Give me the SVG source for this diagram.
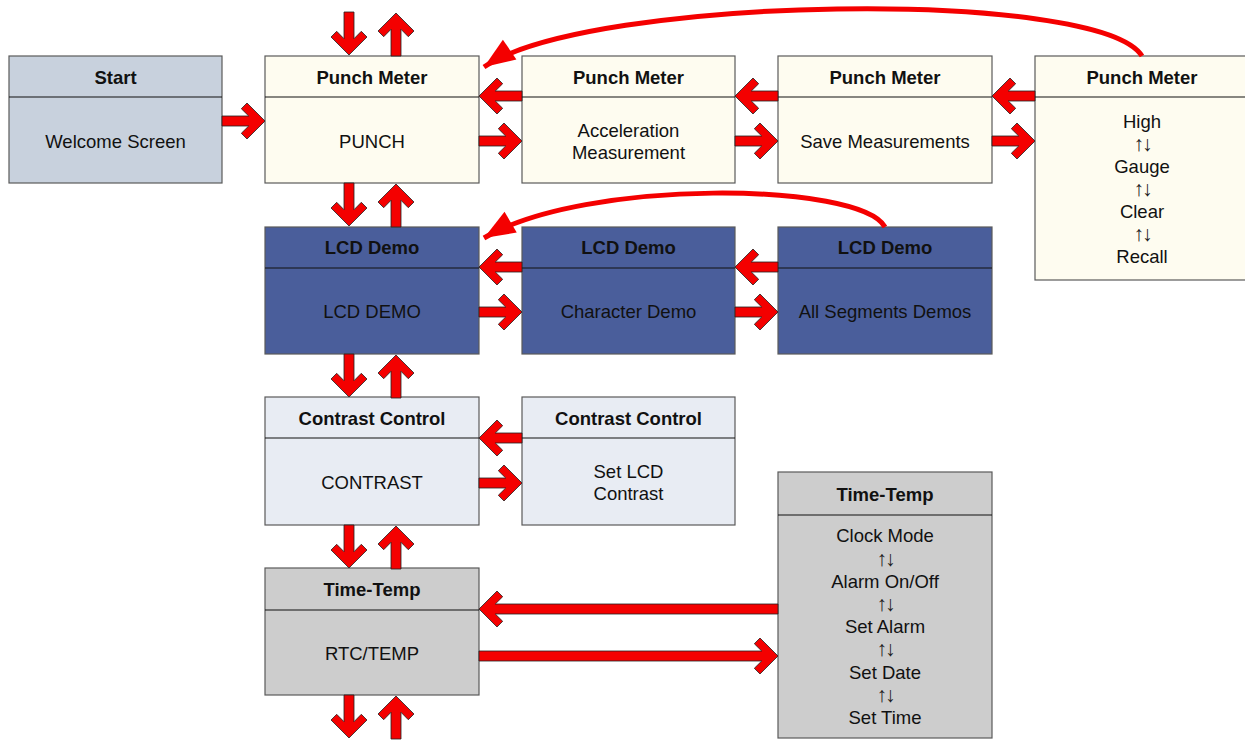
<svg xmlns="http://www.w3.org/2000/svg" xmlns:xlink="http://www.w3.org/1999/xlink" width="1245" height="740" viewBox="0 0 1245 740">
<style>
.box{stroke:#5a5a5a;stroke-width:1.2}
.div{stroke:#111;stroke-width:1.2}
.start{fill:#c8d1dd}
.punch{fill:#fefcf0}
.lcd{fill:#4a5e9b}
.con{fill:#e8ecf3}
.tt{fill:#cdcdcd}
text{font-family:"Liberation Sans",Arial,sans-serif;font-size:18.5px;fill:#111;text-anchor:middle}
.h{font-weight:bold}
.sym{font-size:21px;fill:#222;letter-spacing:-2px}
.arr{fill:#f40000;stroke:#222;stroke-width:0.8;stroke-linejoin:miter}
.curve{fill:none;stroke:#f40000;stroke-width:5}
</style>
<defs>
<path id="a43" d="M0,0 L-18,-18 L-23.7,-12.3 L-16.3,-5 L-43,-5 L-43,5 L-16.3,5 L-23.7,12.3 L-18,18 Z"/>
<path id="a299" d="M0,0 L-18,-18 L-23.7,-12.3 L-16.3,-5 L-299,-5 L-299,5 L-16.3,5 L-23.7,12.3 L-18,18 Z"/>
<marker id="tri" markerUnits="userSpaceOnUse" viewBox="-34 -14 36 28" refX="0" refY="0" markerWidth="36" markerHeight="28" orient="auto">
<path d="M0,0 L-31,-12 L-31,12 Z" fill="#f40000"/>
</marker>
</defs>

<g id="start">
<rect class="box start" x="9" y="56" width="213" height="127"/>
<line class="div" x1="9" y1="97" x2="222" y2="97"/>
<text class="h" x="115.5" y="83.5">Start</text>
<text x="115.5" y="147.5">Welcome Screen</text>
</g>

<g id="punch">
<rect class="box punch" x="265" y="56" width="214" height="127"/>
<line class="div" x1="265" y1="97" x2="479" y2="97"/>
<text class="h" x="372" y="83.5">Punch Meter</text>
<text x="372" y="147.5">PUNCH</text>
</g>

<g id="accel">
<rect class="box punch" x="522" y="56" width="213" height="127"/>
<line class="div" x1="522" y1="97" x2="735" y2="97"/>
<text class="h" x="628.5" y="83.5">Punch Meter</text>
<text x="628.5" y="136.5">Acceleration</text>
<text x="628.5" y="158.5">Measurement</text>
</g>

<g id="save">
<rect class="box punch" x="778" y="56" width="214" height="127"/>
<line class="div" x1="778" y1="97" x2="992" y2="97"/>
<text class="h" x="885" y="83.5">Punch Meter</text>
<text x="885" y="147.5">Save Measurements</text>
</g>

<g id="modes">
<rect class="box punch" x="1035" y="56" width="214" height="224"/>
<line class="div" x1="1035" y1="97" x2="1249" y2="97"/>
<text class="h" x="1142" y="83.5">Punch Meter</text>
<text x="1142" y="127.5">High</text>
<text class="sym" x="1142" y="151">↑↓</text>
<text x="1142" y="172.5">Gauge</text>
<text class="sym" x="1142" y="196">↑↓</text>
<text x="1142" y="217.5">Clear</text>
<text class="sym" x="1142" y="241">↑↓</text>
<text x="1142" y="262.5">Recall</text>
</g>

<g id="lcd">
<rect class="box lcd" x="265" y="227" width="214" height="127"/>
<line class="div" x1="265" y1="268" x2="479" y2="268"/>
<text class="h" x="372" y="253.5">LCD Demo</text>
<text x="372" y="317.5">LCD DEMO</text>
</g>

<g id="chardemo">
<rect class="box lcd" x="522" y="227" width="213" height="127"/>
<line class="div" x1="522" y1="268" x2="735" y2="268"/>
<text class="h" x="628.5" y="253.5">LCD Demo</text>
<text x="628.5" y="317.5">Character Demo</text>
</g>

<g id="segdemo">
<rect class="box lcd" x="778" y="227" width="214" height="127"/>
<line class="div" x1="778" y1="268" x2="992" y2="268"/>
<text class="h" x="885" y="253.5">LCD Demo</text>
<text x="885" y="317.5">All Segments Demos</text>
</g>

<g id="contrast">
<rect class="box con" x="265" y="397" width="214" height="128"/>
<line class="div" x1="265" y1="438" x2="479" y2="438"/>
<text class="h" x="372" y="424.5">Contrast Control</text>
<text x="372" y="488.5">CONTRAST</text>
</g>

<g id="setcontrast">
<rect class="box con" x="522" y="397" width="213" height="128"/>
<line class="div" x1="522" y1="438" x2="735" y2="438"/>
<text class="h" x="628.5" y="424.5">Contrast Control</text>
<text x="628.5" y="477.5">Set LCD</text>
<text x="628.5" y="499.5">Contrast</text>
</g>

<g id="rtc">
<rect class="box tt" x="265" y="568" width="214" height="127"/>
<line class="div" x1="265" y1="610" x2="479" y2="610"/>
<text class="h" x="372" y="595.5">Time-Temp</text>
<text x="372" y="659.5">RTC/TEMP</text>
</g>

<g id="clockmodes">
<rect class="box tt" x="778" y="472" width="214" height="266"/>
<line class="div" x1="778" y1="515" x2="992" y2="515"/>
<text class="h" x="885" y="500.5">Time-Temp</text>
<text x="885" y="541.5">Clock Mode</text>
<text class="sym" x="885" y="565.5">↑↓</text>
<text x="885" y="587.5">Alarm On/Off</text>
<text class="sym" x="885" y="610.5">↑↓</text>
<text x="885" y="632.5">Set Alarm</text>
<text class="sym" x="885" y="656">↑↓</text>
<text x="885" y="678.5">Set Date</text>
<text class="sym" x="885" y="701.5">↑↓</text>
<text x="885" y="723.5">Set Time</text>
</g>

<g id="connectors">
<g class="arr">
<use xlink:href="#a43" transform="translate(265,121)"/>
<use xlink:href="#a43" transform="translate(349,55) rotate(90)"/>
<use xlink:href="#a43" transform="translate(396,13) rotate(-90)"/>
<use xlink:href="#a43" transform="translate(479,96) rotate(180)"/>
<use xlink:href="#a43" transform="translate(522,141)"/>
<use xlink:href="#a43" transform="translate(735,96) rotate(180)"/>
<use xlink:href="#a43" transform="translate(778,141)"/>
<use xlink:href="#a43" transform="translate(992,96) rotate(180)"/>
<use xlink:href="#a43" transform="translate(1035,141)"/>
<use xlink:href="#a43" transform="translate(349,226) rotate(90)"/>
<use xlink:href="#a43" transform="translate(396,184) rotate(-90)"/>
<use xlink:href="#a43" transform="translate(479,267) rotate(180)"/>
<use xlink:href="#a43" transform="translate(522,312)"/>
<use xlink:href="#a43" transform="translate(735,267) rotate(180)"/>
<use xlink:href="#a43" transform="translate(778,312)"/>
<use xlink:href="#a43" transform="translate(349,397) rotate(90)"/>
<use xlink:href="#a43" transform="translate(396,355) rotate(-90)"/>
<use xlink:href="#a43" transform="translate(479,438) rotate(180)"/>
<use xlink:href="#a43" transform="translate(522,483)"/>
<use xlink:href="#a43" transform="translate(349,568) rotate(90)"/>
<use xlink:href="#a43" transform="translate(396,526) rotate(-90)"/>
<use xlink:href="#a299" transform="translate(479,609) rotate(180)"/>
<use xlink:href="#a299" transform="translate(778,656)"/>
<use xlink:href="#a43" transform="translate(349,738) rotate(90)"/>
<use xlink:href="#a43" transform="translate(396,696) rotate(-90)"/>
</g>
<path class="curve" d="M1142,56 C1100,-12 590,-5 484,67" marker-end="url(#tri)"/>
<path class="curve" d="M885,227 C860,182 585,178 484,238" marker-end="url(#tri)"/>
</g>
</svg>
